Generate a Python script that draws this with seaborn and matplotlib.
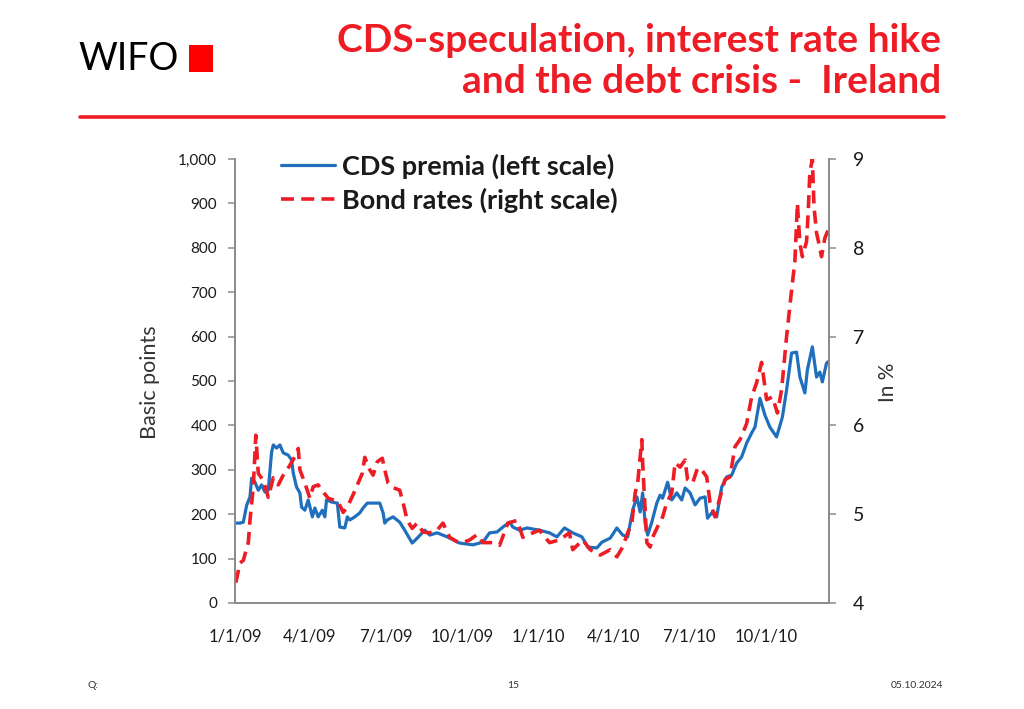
import matplotlib
matplotlib.use("Agg")
import matplotlib.pyplot as plt
import matplotlib.dates as mdates
from matplotlib.patches import Rectangle
from matplotlib.lines import Line2D
import matplotlib.ticker as mticker
import seaborn as sns
import pandas as pd

# ---------------- data ----------------
cds_dates = [
    "2009-01-01", "2009-01-07", "2009-01-11", "2009-01-15", "2009-01-19", "2009-01-21",
    "2009-01-25", "2009-01-29", "2009-02-02", "2009-02-06", "2009-02-10", "2009-02-14",
    "2009-02-16", "2009-02-20", "2009-02-24", "2009-02-28", "2009-03-06", "2009-03-10",
    "2009-03-12", "2009-03-16", "2009-03-20", "2009-03-22", "2009-03-26", "2009-03-30",
    "2009-04-04", "2009-04-07", "2009-04-11", "2009-04-16", "2009-04-19", "2009-04-21",
    "2009-04-28", "2009-05-04", "2009-05-07", "2009-05-13", "2009-05-16", "2009-05-19",
    "2009-05-25", "2009-05-31", "2009-06-04", "2009-06-09", "2009-06-24", "2009-06-28",
    "2009-06-30", "2009-07-03", "2009-07-10", "2009-07-18", "2009-07-24", "2009-08-02",
    "2009-08-08", "2009-08-17", "2009-08-23", "2009-09-01", "2009-09-13", "2009-09-28",
    "2009-10-14", "2009-10-26", "2009-11-03", "2009-11-12", "2009-11-19", "2009-11-27",
    "2009-12-01", "2009-12-09", "2009-12-18", "2010-01-02", "2010-01-14", "2010-01-23",
    "2010-02-01", "2010-02-11", "2010-02-22", "2010-03-01", "2010-03-12", "2010-03-18",
    "2010-03-28", "2010-04-05", "2010-04-12", "2010-04-18", "2010-04-24", "2010-04-29",
    "2010-05-03", "2010-05-06", "2010-05-09", "2010-05-12", "2010-05-17", "2010-05-23",
    "2010-05-27", "2010-05-30", "2010-06-05", "2010-06-10", "2010-06-16", "2010-06-22",
    "2010-06-26", "2010-07-02", "2010-07-08", "2010-07-14", "2010-07-20", "2010-07-23",
    "2010-07-28", "2010-08-03", "2010-08-09", "2010-08-15", "2010-08-21", "2010-08-27",
    "2010-09-02", "2010-09-08", "2010-09-14", "2010-09-18", "2010-09-24", "2010-09-30",
    "2010-10-06", "2010-10-14", "2010-10-21", "2010-10-26", "2010-11-01", "2010-11-07",
    "2010-11-11", "2010-11-17", "2010-11-20", "2010-11-26", "2010-12-01", "2010-12-05",
    "2010-12-08", "2010-12-13", "2010-12-16",
]
cds_values = [
    180, 180, 182, 220, 239, 281,
    272, 254, 266, 250, 254, 340,
    356, 349, 356, 338, 333, 322,
    293, 261, 248, 216, 209, 232,
    194, 214, 194, 209, 194, 232,
    227, 225, 171, 169, 194, 187,
    194, 203, 214, 225, 225, 203,
    180, 187, 194, 182, 164, 135,
    146, 164, 153, 158, 149, 135,
    131, 137, 158, 160, 171, 182,
    171, 164, 169, 164, 158, 149,
    169, 158, 149, 126, 124, 137,
    146, 169, 153, 149, 209, 239,
    205, 248, 180, 153, 182, 225,
    243, 236, 272, 232, 248, 232,
    259, 248, 221, 236, 239, 191,
    203, 194, 261, 284, 288, 315,
    329, 360, 383, 396, 461, 423,
    396, 374, 419, 480, 563, 565,
    509, 473, 525, 577, 509, 520,
    498, 540, 545,
]

bond_dates = [
    "2009-01-02", "2009-01-07", "2009-01-11", "2009-01-17", "2009-01-19", "2009-01-23",
    "2009-01-25", "2009-01-26", "2009-01-29", "2009-02-04", "2009-02-10", "2009-02-16",
    "2009-02-22", "2009-02-28", "2009-03-08", "2009-03-14", "2009-03-18", "2009-03-20",
    "2009-03-26", "2009-04-01", "2009-04-05", "2009-04-11", "2009-04-17", "2009-04-23",
    "2009-04-29", "2009-05-05", "2009-05-11", "2009-05-17", "2009-05-23", "2009-05-29",
    "2009-06-03", "2009-06-06", "2009-06-12", "2009-06-16", "2009-06-21", "2009-06-27",
    "2009-06-30", "2009-07-04", "2009-07-10", "2009-07-18", "2009-07-22", "2009-07-27",
    "2009-08-02", "2009-08-08", "2009-08-15", "2009-08-23", "2009-09-01", "2009-09-08",
    "2009-09-16", "2009-09-25", "2009-10-02", "2009-10-10", "2009-10-19", "2009-10-26",
    "2009-11-07", "2009-11-15", "2009-11-25", "2009-12-06", "2009-12-13", "2009-12-25",
    "2010-01-02", "2010-01-14", "2010-01-26", "2010-02-07", "2010-02-11", "2010-02-23",
    "2010-03-04", "2010-03-16", "2010-03-28", "2010-04-05", "2010-04-12", "2010-04-18",
    "2010-04-23", "2010-04-27", "2010-04-30", "2010-05-05", "2010-05-06", "2010-05-11",
    "2010-05-15", "2010-05-18", "2010-05-24", "2010-05-30", "2010-06-04", "2010-06-10",
    "2010-06-14", "2010-06-20", "2010-06-26", "2010-06-29", "2010-07-05", "2010-07-11",
    "2010-07-16", "2010-07-22", "2010-07-26", "2010-08-01", "2010-08-07", "2010-08-13",
    "2010-08-19", "2010-08-25", "2010-08-31", "2010-09-08", "2010-09-14", "2010-09-20",
    "2010-09-26", "2010-10-02", "2010-10-09", "2010-10-15", "2010-10-20", "2010-10-26",
    "2010-11-01", "2010-11-05", "2010-11-08", "2010-11-11", "2010-11-14", "2010-11-19",
    "2010-11-21", "2010-11-23", "2010-11-26", "2010-11-28", "2010-12-01", "2010-12-05",
    "2010-12-07", "2010-12-11", "2010-12-16",
]
bond_values = [
    4.23, 4.45, 4.48, 4.68, 4.93, 5.31,
    5.69, 5.89, 5.46, 5.38, 5.19, 5.41,
    5.33, 5.44, 5.55, 5.65, 5.74, 5.50,
    5.35, 5.18, 5.31, 5.33, 5.25, 5.18,
    5.16, 5.14, 5.02, 5.10, 5.22, 5.35,
    5.46, 5.64, 5.50, 5.44, 5.59, 5.63,
    5.50, 5.35, 5.30, 5.27, 5.13, 4.93,
    4.84, 4.90, 4.80, 4.79, 4.82, 4.90,
    4.74, 4.69, 4.68, 4.71, 4.77, 4.68,
    4.68, 4.65, 4.90, 4.93, 4.74, 4.79,
    4.82, 4.68, 4.71, 4.79, 4.60, 4.71,
    4.60, 4.54, 4.60, 4.52, 4.63, 4.79,
    4.90, 5.24, 5.35, 5.84, 5.58, 4.68,
    4.63, 4.74, 4.86, 4.97, 5.13, 5.24,
    5.58, 5.53, 5.61, 5.39, 5.35, 5.52,
    5.50, 5.42, 5.13, 4.97, 5.19, 5.39,
    5.42, 5.76, 5.84, 6.02, 6.32, 6.48,
    6.71, 6.29, 6.32, 6.14, 6.40, 7.00,
    7.52, 7.85, 8.50, 8.05, 7.90, 8.07,
    8.40, 8.85, 9.00, 8.46, 8.17, 8.00,
    7.90, 8.11, 8.22,
]

x_ticks = ["2009-01-01", "2009-04-01", "2009-07-01", "2009-10-01",
           "2010-01-01", "2010-04-01", "2010-07-01", "2010-10-01"]
x_tick_labels = ["1/1/09", "4/1/09", "7/1/09", "10/1/09",
                 "1/1/10", "4/1/10", "7/1/10", "10/1/10"]
left_ticks = [0, 100, 200, 300, 400, 500, 600, 700, 800, 900, 1000]
right_ticks = [4, 5, 6, 7, 8, 9]

series_labels = ["CDS premia (left scale)", "Bond rates (right scale)"]
title_lines = "CDS-speculation, interest rate hike\nand the debt crisis -  Ireland"

# ---------------- style ----------------
sns.set_style("white")
plt.rcParams["font.family"] = ["Lato", "DejaVu Sans"]

RED = "#ee1c25"
BLUE = "#1f6fbd"
GREY = "#8c8c8c"
TXT = "#1a1a1a"

fig = plt.figure(figsize=(10.24, 7.09), dpi=100)
ax = fig.add_axes([235 / 1024, 1 - 603 / 709, (829 - 235) / 1024, (603 - 159) / 709])
ax2 = ax.twinx()

cds = pd.DataFrame({"date": pd.to_datetime(cds_dates), "value": cds_values})
bond = pd.DataFrame({"date": pd.to_datetime(bond_dates), "value": bond_values})

DASH = (0, (3.6, 2.0))
sns.lineplot(data=cds, x="date", y="value", ax=ax, color=BLUE, linewidth=2.3,
             sort=False, estimator=None)
sns.lineplot(data=bond, x="date", y="value", ax=ax2, color=RED, linewidth=2.6,
             sort=False, estimator=None, linestyle=DASH)

xmin, xmax = pd.Timestamp("2009-01-01"), pd.Timestamp("2010-12-16")
ax.set_xlim(xmin, xmax)
ax.set_ylim(0, 1000)
ax2.set_ylim(4, 9)

ax.set_xticks(pd.to_datetime(x_ticks))
ax.set_xticklabels(x_tick_labels)
ax.set_yticks(left_ticks)
ax.yaxis.set_major_formatter(mticker.FuncFormatter(lambda v, p: f"{int(v):,}"))
ax2.set_yticks(right_ticks)

for a in (ax, ax2):
    a.set_xlabel("")
    a.set_ylabel("")
    a.grid(False)
    a.spines["top"].set_visible(False)
    for s in ("left", "bottom", "right"):
        a.spines[s].set_color(GREY)
        a.spines[s].set_linewidth(1.3)

ax.tick_params(axis="x", direction="out", length=5, width=1.1, color=GREY,
               labelsize=12, labelcolor=TXT, pad=13)
ax.tick_params(axis="y", direction="out", length=5, width=1.1, color=GREY,
               labelsize=11, labelcolor=TXT, pad=8, left=True)
ax2.tick_params(axis="y", direction="out", length=5, width=1.1, color=GREY,
                labelsize=14, labelcolor=TXT, pad=12, right=True)

fig.text(150 / 1024, 1 - 382 / 709, "Basic points", rotation=90, ha="center",
         va="center", fontsize=15.5, color="#333333")
fig.text(888 / 1024, 1 - 382 / 709, "In %", rotation=90, ha="center",
         va="center", fontsize=15, color="#333333")

handles = [Line2D([], [], color=BLUE, linewidth=2.3),
           Line2D([], [], color=RED, linewidth=2.6, linestyle=DASH)]
fig.legend(handles, series_labels, loc="upper left",
           bbox_to_anchor=(270 / 1024, 1 - 143 / 709), frameon=False,
           prop={"weight": "bold", "size": 19.5}, handlelength=2.0,
           handletextpad=0.25, labelspacing=0.3, labelcolor=TXT,
           borderaxespad=0.0)

# ---------------- header / footer ----------------
fig.text(941 / 1024, 1 - 61 / 709, title_lines, ha="right", va="center",
         color=RED, fontsize=28, fontweight="bold", linespacing=1.2)
fig.text(78 / 1024, 1 - 59 / 709, "WIFO", ha="left", va="center",
         color="black", fontsize=27, fontweight="normal")
fig.patches.append(Rectangle((189 / 1024, 1 - 72 / 709), 24 / 1024, 27 / 709,
                             transform=fig.transFigure, facecolor="#ff0000",
                             edgecolor="none"))
fig.add_artist(Line2D([80 / 1024, 944 / 1024], [1 - 117 / 709, 1 - 117 / 709],
                      transform=fig.transFigure, color=RED, linewidth=2.6))

fig.text(88 / 1024, 1 - 686 / 709, "Q:", ha="left", va="center", fontsize=7.5, color="#333333")
fig.text(513 / 1024, 1 - 685 / 709, "15", ha="center", va="center", fontsize=7.5, color="#333333")
fig.text(943 / 1024, 1 - 686 / 709, "05.10.2024", ha="right", va="center", fontsize=7.5, color="#333333")

fig.savefig("out.png", dpi=100)
